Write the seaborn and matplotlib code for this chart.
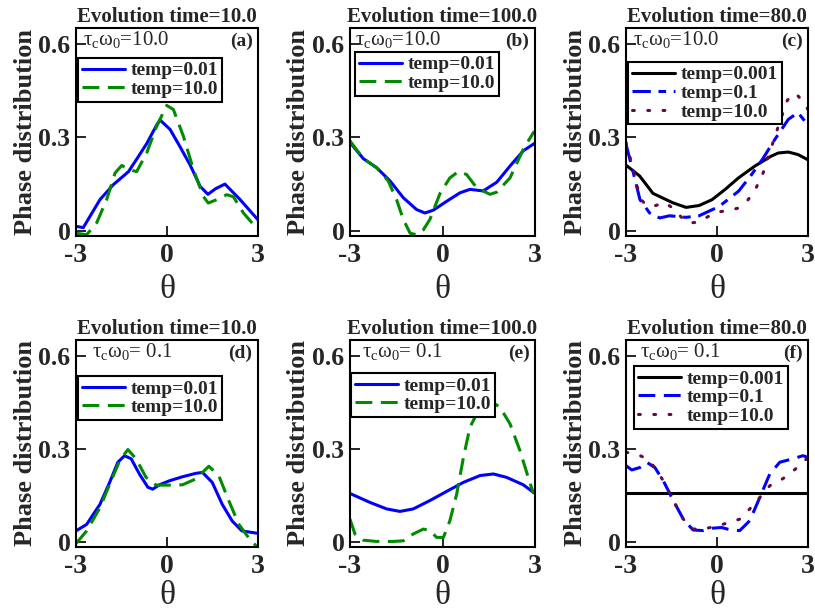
import numpy as np
import pandas as pd
import matplotlib
matplotlib.use("Agg")
import matplotlib.pyplot as plt
import seaborn as sns

# ---------------- data ----------------
# Panel (a): tau_c*omega_0 = 10.0, evolution time 10.0
a_x_t001 = [-3.0, -2.76, -2.21, -1.77, -1.27, -1.0, -0.67, -0.34, -0.23, 0.1, 0.43, 0.77, 1.09, 1.35, 1.6, 1.91, 2.41, 3.0]
a_y_t001 = [0.014, 0.01, 0.10, 0.148, 0.19, 0.23, 0.28, 0.34, 0.356, 0.326, 0.27, 0.21, 0.143, 0.117, 0.135, 0.15, 0.10, 0.035]
a_x_t10 = [-3.0, -2.65, -2.32, -1.99, -1.71, -1.49, -1.27, -1.0, -0.67, -0.34, -0.01, 0.21, 0.54, 0.87, 1.2, 1.36, 1.64, 1.97, 2.19, 2.52, 3.0]
a_y_t10 = [-0.008, -0.013, 0.025, 0.10, 0.186, 0.21, 0.197, 0.19, 0.25, 0.336, 0.403, 0.39, 0.304, 0.197, 0.11, 0.089, 0.10, 0.116, 0.109, 0.057, 0.003]

# Panel (b): tau_c*omega_0 = 10.0, evolution time 100.0
b_x_t001 = [-3.0, -2.57, -2.14, -1.70, -1.27, -0.84, -0.57, -0.30, 0.14, 0.57, 0.89, 1.32, 1.76, 2.19, 2.62, 3.0]
b_y_t001 = [0.284, 0.232, 0.203, 0.16, 0.106, 0.068, 0.057, 0.066, 0.095, 0.122, 0.133, 0.128, 0.156, 0.208, 0.257, 0.282]
b_x_t10 = [-3.0, -2.57, -2.14, -1.76, -1.49, -1.27, -1.05, -0.84, -0.62, -0.41, -0.08, 0.24, 0.51, 0.78, 1.11, 1.54, 1.76, 2.19, 2.62, 2.95, 3.0]
b_y_t10 = [0.289, 0.232, 0.203, 0.16, 0.10, 0.036, -0.008, -0.013, 0.003, 0.036, 0.12, 0.17, 0.19, 0.181, 0.138, 0.117, 0.124, 0.17, 0.262, 0.316, 0.318]

# Panel (c): tau_c*omega_0 = 10.0, evolution time 80.0
c_x_t0001 = [-3.0, -2.55, -2.11, -1.46, -1.02, -0.59, -0.16, 0.27, 0.71, 1.25, 1.79, 2.02, 2.35, 2.67, 3.0]
c_y_t0001 = [0.211, 0.176, 0.12, 0.09, 0.075, 0.081, 0.10, 0.133, 0.17, 0.208, 0.24, 0.25, 0.253, 0.245, 0.228]
c_x_t01 = [-3.0, -2.76, -2.54, -2.22, -1.89, -1.57, -1.02, -0.59, 0.07, 0.71, 1.1, 1.5, 1.91, 2.35, 2.67, 2.89, 3.0]
c_y_t01 = [0.278, 0.187, 0.10, 0.057, 0.041, 0.048, 0.043, 0.048, 0.078, 0.127, 0.175, 0.23, 0.294, 0.358, 0.38, 0.353, 0.34]
c_x_t10 = [-3.0, -2.76, -2.54, -2.33, -2.02, -1.73, -1.46, -1.18, -0.97, -0.62, -0.32, 0.0, 0.39, 0.71, 1.03, 1.3, 1.53, 1.64, 1.86, 2.08, 2.32, 2.6, 2.84, 3.0]
c_y_t10 = [0.284, 0.197, 0.105, 0.081, 0.081, 0.091, 0.073, 0.044, 0.025, 0.027, 0.044, 0.06, 0.065, 0.073, 0.10, 0.14, 0.188, 0.224, 0.288, 0.353, 0.42, 0.442, 0.414, 0.39]

# Panel (d): tau_c*omega_0 = 0.1, evolution time 10.0
d_x_t001 = [-3.0, -2.65, -2.21, -1.89, -1.62, -1.40, -1.18, -0.91, -0.63, -0.47, -0.25, 0.08, 0.51, 0.95, 1.17, 1.49, 1.82, 2.15, 2.47, 3.0]
d_y_t001 = [0.035, 0.056, 0.121, 0.192, 0.257, 0.278, 0.268, 0.219, 0.176, 0.17, 0.184, 0.197, 0.21, 0.221, 0.224, 0.192, 0.121, 0.067, 0.035, 0.027]
d_x_t10 = [-3.0, -2.65, -2.21, -1.89, -1.56, -1.29, -1.02, -0.69, -0.36, 0.08, 0.51, 0.95, 1.38, 1.71, 2.04, 2.37, 2.69, 3.0]
d_y_t10 = [-0.006, 0.035, 0.11, 0.186, 0.262, 0.298, 0.268, 0.208, 0.183, 0.183, 0.184, 0.203, 0.244, 0.213, 0.132, 0.056, 0.013, -0.02]

# Panel (e): tau_c*omega_0 = 0.1, evolution time 100.0
e_x_t001 = [-3.0, -2.35, -1.81, -1.38, -0.95, -0.41, 0.14, 0.68, 1.22, 1.65, 2.08, 2.62, 3.0]
e_y_t001 = [0.156, 0.127, 0.106, 0.098, 0.106, 0.133, 0.163, 0.192, 0.214, 0.219, 0.208, 0.184, 0.156]
e_x_t10 = [-3.0, -2.84, -2.57, -2.14, -1.59, -1.27, -0.95, -0.62, -0.41, -0.19, 0.03, 0.24, 0.46, 0.68, 0.89, 1.22, 1.54, 1.86, 2.19, 2.51, 2.78, 2.95]
e_y_t10 = [0.073, 0.025, 0.005, 0.001, 0.001, 0.003, 0.025, 0.041, 0.036, 0.014, 0.014, 0.068, 0.154, 0.273, 0.37, 0.435, 0.456, 0.435, 0.381, 0.295, 0.208, 0.156]

# Panel (f): tau_c*omega_0 = 0.1, evolution time 80.0
f_x_t0001 = [-3.0, 3.0]
f_y_t0001 = [0.158, 0.158]
f_x_t01 = [-3.0, -2.81, -2.54, -2.32, -2.05, -1.77, -1.44, -1.11, -0.79, -0.46, -0.13, 0.15, 0.42, 0.75, 1.08, 1.41, 1.74, 2.07, 2.5, 2.83, 3.0]
f_y_t01 = [0.246, 0.232, 0.24, 0.257, 0.24, 0.197, 0.133, 0.073, 0.038, 0.036, 0.044, 0.046, 0.039, 0.036, 0.068, 0.143, 0.219, 0.257, 0.268, 0.278, 0.273]
f_x_t10 = [-3.0, -2.65, -2.32, -2.05, -1.77, -1.44, -1.11, -0.79, -0.46, -0.02, 0.42, 0.75, 1.08, 1.41, 1.74, 2.07, 2.39, 2.72, 3.0]
f_y_t10 = [0.289, 0.284, 0.268, 0.24, 0.197, 0.133, 0.073, 0.041, 0.041, 0.05, 0.063, 0.073, 0.106, 0.143, 0.181, 0.197, 0.219, 0.246, 0.273]

titles = ["Evolution time=10.0", "Evolution time=100.0", "Evolution time=80.0",
          "Evolution time=10.0", "Evolution time=100.0", "Evolution time=80.0"]
tags = ["(a)", "(b)", "(c)", "(d)", "(e)", "(f)"]
tau_labels = [r"$\tau_c\omega_0$=10.0"] * 3 + [r"$\tau_c\omega_0$= 0.1"] * 3
x_ticks = [-3, 0, 3]
x_ticklabels = ["-3", "0", "3"]
y_ticks = [0, 0.3, 0.6]
y_ticklabels = ["0", "0.3", "0.6"]

BLUE, GREEN, BLACK, MAROON = "#0000ff", "#008b00", "#000000", "#670748"
two = lambda px, py, qx, qy: [(px, py, "temp=0.01", BLUE, None), (qx, qy, "temp=10.0", GREEN, (5.5, 2.8))]
panels = [
    two(a_x_t001, a_y_t001, a_x_t10, a_y_t10),
    two(b_x_t001, b_y_t001, b_x_t10, b_y_t10),
    [(c_x_t0001, c_y_t0001, "temp=0.001", BLACK, None),
     (c_x_t01, c_y_t01, "temp=0.1", BLUE, (6, 2.5, 2.5, 2.5)),
     (c_x_t10, c_y_t10, "temp=10.0", MAROON, (0.6, 4.4))],
    two(d_x_t001, d_y_t001, d_x_t10, d_y_t10),
    two(e_x_t001, e_y_t001, e_x_t10, e_y_t10),
    [(f_x_t0001, f_y_t0001, "temp=0.001", BLACK, None),
     (f_x_t01, f_y_t01, "temp=0.1", BLUE, (5.5, 2.8)),
     (f_x_t10, f_y_t10, "temp=10.0", MAROON, (0.6, 4.4))],
]

# ---------------- layout ----------------
sns.set_theme(style="ticks")
plt.rcParams["font.family"] = ["Liberation Serif", "DejaVu Serif"]
plt.rcParams["mathtext.fontset"] = "custom"
plt.rcParams["mathtext.rm"] = "Liberation Serif"
plt.rcParams["mathtext.it"] = "Liberation Serif"
plt.rcParams["mathtext.bf"] = "Liberation Serif:bold"

fig = plt.figure(figsize=(8.15, 6.12), dpi=100)
W, H = 815.0, 612.0
lefts = [76, 350, 626]
widths = [182, 185, 182]
row_top = [28, 340]
row_bot = [236, 547]
xlab_y = [-0.185, -0.16]
tau_x = [0.04, 0.027, 0.04, 0.09, 0.065, 0.077]
leg_pos = [(0.011, 0.856), (0.027, 0.885), (0.011, 0.837), (0.011, 0.826), (0.005, 0.84), (0.044, 0.874)]

for i in range(6):
    r, c = divmod(i, 3)
    ax = fig.add_axes([lefts[c] / W, 1 - row_bot[r] / H, widths[c] / W, (row_bot[r] - row_top[r]) / H])
    for (xs, ys, lab, col, dash) in panels[i]:
        df = pd.DataFrame({"theta": xs, "p": ys})
        sns.lineplot(data=df, x="theta", y="p", ax=ax, color=col, label=lab,
                     linewidth=2.2, sort=False, estimator=None)
        ln = ax.lines[-1]
        if dash is not None:
            ln.set_dashes(dash)
        if col == MAROON:
            ln.set_dash_capstyle("round")
    ax.set_xlim(-3, 3)
    ax.set_ylim(-0.017, 0.652)
    ax.set_xticks(x_ticks)
    ax.set_xticklabels(x_ticklabels, fontsize=20, fontweight="bold")
    ax.set_yticks(y_ticks)
    ax.set_yticklabels(y_ticklabels, fontsize=18.5, fontweight="bold")
    ax.tick_params(direction="in", length=7, width=1.2, color="black", pad=4)
    ax.tick_params(axis="x", pad=5)
    for s in ax.spines.values():
        s.set_linewidth(1.5)
        s.set_color("black")
        s.set_visible(True)
    ax.set_xlabel("θ", fontsize=24)
    ax.set_ylabel("Phase distribution", fontsize=19, fontweight="bold")
    ax.yaxis.set_label_coords(-0.215, 0.5)
    ax.xaxis.set_label_coords(0.5, xlab_y[r])
    ax.set_title(titles[i], fontsize=15, fontweight="bold", pad=4)
    ax.text(tau_x[i], 0.995, tau_labels[i], transform=ax.transAxes, fontsize=15,
            ha="left", va="top")
    ax.text(0.97, 0.935, tags[i], transform=ax.transAxes, fontsize=14,
            fontweight="bold", ha="right", va="center")
    leg = ax.legend(loc="upper left", bbox_to_anchor=leg_pos[i], frameon=True,
                    fancybox=False, framealpha=1, edgecolor="black",
                    prop={"family": "Liberation Serif", "weight": "bold", "size": 14},
                    handlelength=2.2, handletextpad=0.3, labelspacing=0.05,
                    borderpad=0.2, borderaxespad=0)
    leg.get_frame().set_linewidth(1.5)

fig.savefig("out.png", dpi=100)
